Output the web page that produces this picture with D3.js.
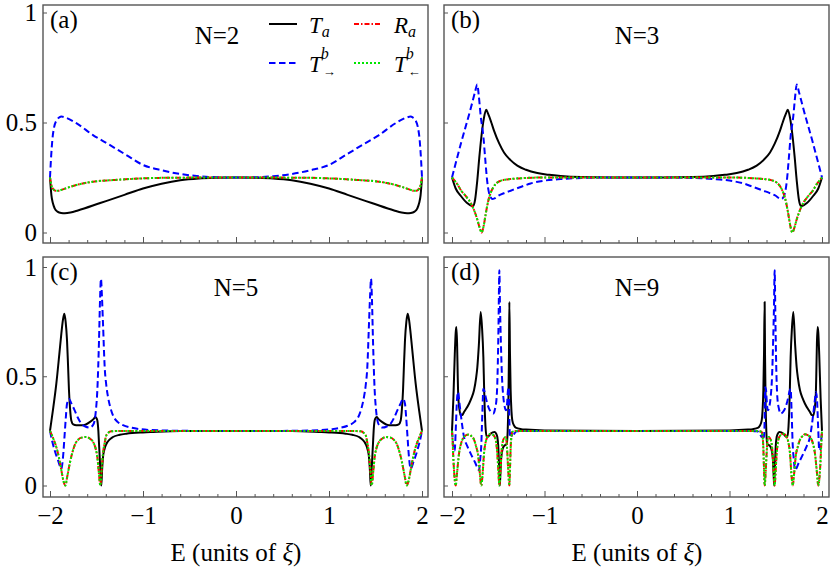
<!DOCTYPE html>
<html>
<head>
<meta charset="utf-8">
<script src="https://cdn.jsdelivr.net/npm/d3@7"></script>
<style>
  body { margin: 0; background: #fff; }
  svg { display: block; font-family: "Liberation Serif", "DejaVu Serif", serif; }
</style>
</head>
<body>
<svg id="chart" width="831" height="571"></svg>
<script>
// tick values
const E_TICKS = [-2, -1, 0, 1, 2];
const E_MINOR = [-1.8, -1.6, -1.4, -1.2, -0.8, -0.6, -0.4, -0.2, 0.2, 0.4, 0.6, 0.8, 1.2, 1.4, 1.6, 1.8];
const Y_TICKS = [0, 0.5, 1];
const Y_LABELS = ["0", "0.5", "1"];
const PANEL_TAGS = ["(a)", "(b)", "(c)", "(d)"];
const PANEL_N = ["N=2", "N=3", "N=5", "N=9"];

// (a) N=2   each point is [E, value]
const a_Ta = [[-2,0.25],[-1.985,0.17],[-1.97,0.135],[-1.95,0.11],[-1.92,0.095],[-1.88,0.089],[-1.84,0.088],[-1.78,0.091],[-1.7,0.1],[-1.46,0.134],[-1.2,0.171],[-1.0,0.2],[-0.8,0.222],[-0.6,0.238],[-0.4,0.246],[-0.2,0.249],[0,0.25],
  [0.2,0.249],[0.4,0.246],[0.6,0.238],[0.8,0.222],[1.0,0.2],[1.2,0.171],[1.46,0.134],[1.7,0.1],[1.78,0.091],[1.84,0.088],[1.88,0.089],[1.92,0.095],[1.95,0.11],[1.97,0.135],[1.985,0.17],[2,0.25]];
const a_Tf = [[-2,0.25],[-1.99,0.33],[-1.975,0.42],[-1.955,0.48],[-1.93,0.51],[-1.9,0.523],[-1.878,0.527],[-1.83,0.522],[-1.717,0.497],[-1.538,0.443],[-1.358,0.398],[-1.179,0.352],[-1.0,0.307],[-0.8,0.283],[-0.6,0.266],[-0.4,0.256],[-0.2,0.251],[0,0.25],
  [0.2,0.251],[0.4,0.256],[0.6,0.266],[0.8,0.283],[1.0,0.307],[1.179,0.352],[1.358,0.398],[1.538,0.443],[1.717,0.497],[1.83,0.522],[1.878,0.527],[1.9,0.523],[1.93,0.51],[1.955,0.48],[1.975,0.42],[1.99,0.33],[2,0.25]];
const a_Ra = [[-2,0.25],[-1.985,0.215],[-1.965,0.197],[-1.94,0.19],[-1.91,0.19],[-1.87,0.195],[-1.8,0.205],[-1.717,0.216],[-1.538,0.231],[-1.3,0.239],[-1.0,0.246],[-0.7,0.249],[0,0.25],
  [0.7,0.249],[1.0,0.246],[1.3,0.239],[1.538,0.231],[1.717,0.216],[1.8,0.205],[1.87,0.195],[1.91,0.19],[1.94,0.19],[1.965,0.197],[1.985,0.215],[2,0.25]];
const a_Tb = a_Ra; // coincides with R_a in the picture

// (b) N=3
const b_Ta = [[-2,0.25],[-1.96,0.2],[-1.906,0.167],[-1.84,0.135],[-1.79,0.122],[-1.77,0.121],[-1.75,0.15],[-1.727,0.235],[-1.705,0.34],[-1.683,0.433],[-1.655,0.52],[-1.63,0.558],[-1.61,0.54],[-1.575,0.5],[-1.546,0.463],[-1.49,0.405],[-1.438,0.364],[-1.37,0.33],[-1.294,0.304],[-1.2,0.285],[-1.078,0.27],[-0.95,0.262],[-0.825,0.257],[-0.6,0.252],[-0.3,0.25],[0,0.25],
  [0.3,0.25],[0.6,0.252],[0.825,0.257],[0.95,0.262],[1.078,0.27],[1.2,0.285],[1.294,0.304],[1.37,0.33],[1.438,0.364],[1.49,0.405],[1.546,0.463],[1.575,0.5],[1.61,0.54],[1.63,0.558],[1.655,0.52],[1.683,0.433],[1.705,0.34],[1.727,0.235],[1.75,0.15],[1.77,0.121],[1.79,0.122],[1.84,0.135],[1.906,0.167],[1.96,0.2],[2,0.25]];
const b_Tf = [[-2,0.25],[-1.9,0.41],[-1.8,0.56],[-1.75,0.64],[-1.727,0.673],[-1.71,0.62],[-1.69,0.53],[-1.66,0.433],[-1.64,0.33],[-1.62,0.235],[-1.6,0.18],[-1.58,0.159],[-1.565,0.152],[-1.54,0.155],[-1.5,0.167],[-1.43,0.18],[-1.366,0.19],[-1.25,0.208],[-1.15,0.223],[-1.0,0.236],[-0.825,0.243],[-0.6,0.248],[-0.3,0.25],[0,0.25],
  [0.3,0.25],[0.6,0.248],[0.825,0.243],[1.0,0.236],[1.15,0.223],[1.25,0.208],[1.366,0.19],[1.43,0.18],[1.5,0.167],[1.54,0.155],[1.565,0.152],[1.58,0.159],[1.6,0.18],[1.62,0.235],[1.64,0.33],[1.66,0.433],[1.69,0.53],[1.71,0.62],[1.727,0.673],[1.75,0.64],[1.8,0.56],[1.9,0.41],[2,0.25]];
const b_Ra = [[-2,0.25],[-1.97,0.235],[-1.943,0.22],[-1.9,0.19],[-1.85,0.165],[-1.8,0.136],[-1.76,0.1],[-1.727,0.06],[-1.7,0.02],[-1.68,0],[-1.66,0.025],[-1.636,0.083],[-1.61,0.14],[-1.58,0.182],[-1.55,0.208],[-1.51,0.227],[-1.45,0.238],[-1.366,0.243],[-1.2,0.248],[-1.0,0.25],[0,0.25],
  [1.0,0.25],[1.2,0.248],[1.366,0.243],[1.45,0.238],[1.51,0.227],[1.55,0.208],[1.58,0.182],[1.61,0.14],[1.636,0.083],[1.66,0.025],[1.68,0],[1.7,0.02],[1.727,0.06],[1.76,0.1],[1.8,0.136],[1.85,0.165],[1.9,0.19],[1.943,0.22],[1.97,0.235],[2,0.25]];
const b_Tb = b_Ra;

// (c) N=5
const c_Ta = [[-2,0.25],[-1.97,0.34],[-1.932,0.466],[-1.9,0.6],[-1.878,0.695],[-1.86,0.76],[-1.846,0.786],[-1.832,0.75],[-1.817,0.664],[-1.806,0.55],[-1.796,0.436],[-1.784,0.35],[-1.771,0.298],[-1.75,0.28],[-1.717,0.276],[-1.645,0.276],[-1.573,0.29],[-1.53,0.305],[-1.513,0.313],[-1.5,0.308],[-1.491,0.298],[-1.48,0.25],[-1.473,0.191],[-1.462,0.1],[-1.452,0.02],[-1.448,0],[-1.44,0.07],[-1.43,0.13],[-1.415,0.165],[-1.394,0.19],[-1.36,0.21],[-1.323,0.222],[-1.25,0.232],[-1.18,0.237],[-1.0,0.243],[-0.892,0.245],[-0.6,0.249],[0,0.25],
  [0.6,0.249],[0.892,0.245],[1.0,0.243],[1.18,0.237],[1.25,0.232],[1.323,0.222],[1.36,0.21],[1.394,0.19],[1.415,0.165],[1.43,0.13],[1.44,0.07],[1.448,0],[1.452,0.02],[1.462,0.1],[1.473,0.191],[1.48,0.25],[1.491,0.298],[1.5,0.308],[1.513,0.313],[1.53,0.305],[1.573,0.29],[1.645,0.276],[1.717,0.276],[1.75,0.28],[1.771,0.298],[1.784,0.35],[1.796,0.436],[1.806,0.55],[1.817,0.664],[1.832,0.75],[1.846,0.786],[1.86,0.76],[1.878,0.695],[1.9,0.6],[1.932,0.466],[1.97,0.34],[2,0.25]];
const c_Tf = [[-2,0.25],[-1.975,0.2],[-1.95,0.161],[-1.91,0.11],[-1.878,0.077],[-1.86,0.13],[-1.842,0.237],[-1.83,0.31],[-1.817,0.374],[-1.796,0.397],[-1.77,0.375],[-1.735,0.344],[-1.7,0.31],[-1.663,0.283],[-1.62,0.27],[-1.573,0.265],[-1.54,0.275],[-1.52,0.298],[-1.505,0.35],[-1.491,0.436],[-1.473,0.664],[-1.462,0.85],[-1.452,0.946],[-1.442,0.87],[-1.43,0.74],[-1.412,0.542],[-1.395,0.46],[-1.376,0.405],[-1.35,0.355],[-1.323,0.321],[-1.27,0.29],[-1.215,0.276],[-1.12,0.264],[-1.035,0.258],[-0.8,0.252],[-0.5,0.25],[0,0.25],
  [0.5,0.25],[0.8,0.252],[1.035,0.258],[1.12,0.264],[1.215,0.276],[1.27,0.29],[1.323,0.321],[1.35,0.355],[1.376,0.405],[1.395,0.46],[1.412,0.542],[1.43,0.74],[1.442,0.87],[1.452,0.946],[1.462,0.85],[1.473,0.664],[1.491,0.436],[1.505,0.35],[1.52,0.298],[1.54,0.275],[1.573,0.265],[1.62,0.27],[1.663,0.283],[1.7,0.31],[1.735,0.344],[1.77,0.375],[1.796,0.397],[1.817,0.374],[1.83,0.31],[1.842,0.237],[1.86,0.13],[1.878,0.077],[1.91,0.11],[1.95,0.161],[1.975,0.2],[2,0.25]];
const c_Ra = [[-2,0.25],[-1.965,0.215],[-1.932,0.176],[-1.9,0.12],[-1.878,0.07],[-1.855,0.02],[-1.835,0],[-1.815,0.04],[-1.788,0.1],[-1.76,0.15],[-1.735,0.184],[-1.7,0.208],[-1.663,0.219],[-1.61,0.222],[-1.57,0.214],[-1.538,0.2],[-1.51,0.17],[-1.491,0.13],[-1.475,0.06],[-1.459,0],[-1.445,0.07],[-1.43,0.146],[-1.41,0.2],[-1.394,0.23],[-1.34,0.248],[-1.2,0.25],[0,0.25],
  [1.2,0.25],[1.34,0.248],[1.394,0.23],[1.41,0.2],[1.43,0.146],[1.445,0.07],[1.459,0],[1.475,0.06],[1.491,0.13],[1.51,0.17],[1.538,0.2],[1.57,0.214],[1.61,0.222],[1.663,0.219],[1.7,0.208],[1.735,0.184],[1.76,0.15],[1.788,0.1],[1.815,0.04],[1.835,0],[1.855,0.02],[1.878,0.07],[1.9,0.12],[1.932,0.176],[1.965,0.215],[2,0.25]];
const c_Tb = c_Ra;

// (d) N=9
const d_Ta = [[-2,0.25],[-1.985,0.4],[-1.97,0.6],[-1.96,0.7],[-1.953,0.725],[-1.945,0.65],[-1.938,0.5],[-1.932,0.405],[-1.92,0.35],[-1.906,0.321],[-1.89,0.322],[-1.87,0.336],[-1.816,0.374],[-1.79,0.4],[-1.762,0.436],[-1.74,0.49],[-1.726,0.542],[-1.71,0.64],[-1.69,0.794],[-1.675,0.72],[-1.661,0.588],[-1.653,0.45],[-1.647,0.36],[-1.638,0.27],[-1.625,0.222],[-1.6,0.228],[-1.582,0.237],[-1.56,0.243],[-1.538,0.245],[-1.52,0.235],[-1.51,0.222],[-1.5,0.18],[-1.492,0.1],[-1.487,0.04],[-1.483,0],[-1.476,0.06],[-1.467,0.13],[-1.445,0.176],[-1.425,0.185],[-1.409,0.189],[-1.398,0.25],[-1.391,0.36],[-1.384,0.6],[-1.38,0.84],[-1.373,0.6],[-1.366,0.436],[-1.357,0.34],[-1.348,0.298],[-1.33,0.275],[-1.311,0.265],[-1.25,0.258],[-1.2,0.256],[-1.0,0.252],[0,0.25],
  [1.0,0.252],[1.2,0.256],[1.25,0.258],[1.311,0.265],[1.33,0.275],[1.348,0.298],[1.357,0.34],[1.366,0.436],[1.373,0.6],[1.38,0.84],[1.384,0.6],[1.391,0.36],[1.398,0.25],[1.409,0.189],[1.425,0.185],[1.445,0.176],[1.467,0.13],[1.476,0.06],[1.483,0],[1.487,0.04],[1.492,0.1],[1.5,0.18],[1.51,0.222],[1.52,0.235],[1.538,0.245],[1.56,0.243],[1.582,0.237],[1.6,0.228],[1.625,0.222],[1.638,0.27],[1.647,0.36],[1.653,0.45],[1.661,0.588],[1.675,0.72],[1.69,0.794],[1.71,0.64],[1.726,0.542],[1.74,0.49],[1.762,0.436],[1.79,0.4],[1.816,0.374],[1.87,0.336],[1.89,0.322],[1.906,0.321],[1.92,0.35],[1.932,0.405],[1.938,0.5],[1.945,0.65],[1.953,0.725],[1.96,0.7],[1.97,0.6],[1.985,0.4],[2,0.25]];
const d_Tf = [[-2,0.25],[-1.99,0.2],[-1.978,0.161],[-1.97,0.16],[-1.96,0.25],[-1.945,0.4],[-1.935,0.428],[-1.92,0.38],[-1.906,0.329],[-1.87,0.222],[-1.835,0.18],[-1.798,0.146],[-1.75,0.105],[-1.708,0.07],[-1.695,0.12],[-1.683,0.19],[-1.672,0.33],[-1.661,0.443],[-1.648,0.43],[-1.636,0.405],[-1.6,0.352],[-1.575,0.335],[-1.553,0.329],[-1.535,0.35],[-1.517,0.405],[-1.505,0.55],[-1.497,0.74],[-1.488,0.985],[-1.481,0.82],[-1.472,0.664],[-1.46,0.5],[-1.445,0.405],[-1.43,0.36],[-1.416,0.344],[-1.405,0.37],[-1.395,0.436],[-1.386,0.45],[-1.38,0.3],[-1.373,0.22],[-1.36,0.24],[-1.348,0.222],[-1.33,0.235],[-1.3,0.248],[-1.2,0.25],[0,0.25],
  [1.2,0.25],[1.3,0.248],[1.33,0.235],[1.348,0.222],[1.36,0.24],[1.373,0.22],[1.38,0.3],[1.386,0.45],[1.395,0.436],[1.405,0.37],[1.416,0.344],[1.43,0.36],[1.445,0.405],[1.46,0.5],[1.472,0.664],[1.481,0.82],[1.488,0.985],[1.497,0.74],[1.505,0.55],[1.517,0.405],[1.535,0.35],[1.553,0.329],[1.575,0.335],[1.6,0.352],[1.636,0.405],[1.648,0.43],[1.661,0.443],[1.672,0.33],[1.683,0.19],[1.695,0.12],[1.708,0.07],[1.75,0.105],[1.798,0.146],[1.835,0.18],[1.87,0.222],[1.906,0.329],[1.92,0.38],[1.935,0.428],[1.945,0.4],[1.96,0.25],[1.97,0.16],[1.978,0.161],[1.99,0.2],[2,0.25]];
const d_Ra = [[-2,0.25],[-1.993,0.2],[-1.986,0.13],[-1.975,0.05],[-1.96,0],[-1.945,0.06],[-1.924,0.146],[-1.9,0.195],[-1.87,0.222],[-1.84,0.232],[-1.816,0.234],[-1.79,0.226],[-1.762,0.21],[-1.74,0.18],[-1.715,0.13],[-1.7,0.06],[-1.683,0],[-1.668,0.06],[-1.654,0.146],[-1.635,0.2],[-1.618,0.222],[-1.582,0.237],[-1.56,0.233],[-1.538,0.222],[-1.52,0.19],[-1.51,0.146],[-1.498,0.06],[-1.488,0],[-1.478,0.06],[-1.466,0.146],[-1.445,0.21],[-1.42,0.222],[-1.41,0.2],[-1.402,0.15],[-1.392,0.07],[-1.38,0],[-1.372,0.09],[-1.366,0.17],[-1.356,0.23],[-1.348,0.245],[-1.3,0.25],[0,0.25],
  [1.3,0.25],[1.348,0.245],[1.356,0.23],[1.366,0.17],[1.372,0.09],[1.38,0],[1.392,0.07],[1.402,0.15],[1.41,0.2],[1.42,0.222],[1.445,0.21],[1.466,0.146],[1.478,0.06],[1.488,0],[1.498,0.06],[1.51,0.146],[1.52,0.19],[1.538,0.222],[1.56,0.233],[1.582,0.237],[1.618,0.222],[1.635,0.2],[1.654,0.146],[1.668,0.06],[1.683,0],[1.7,0.06],[1.715,0.13],[1.74,0.18],[1.762,0.21],[1.79,0.226],[1.816,0.234],[1.84,0.232],[1.87,0.222],[1.9,0.195],[1.924,0.146],[1.945,0.06],[1.96,0],[1.975,0.05],[1.986,0.13],[1.993,0.2],[2,0.25]];
const d_Tb = d_Ra;

const FONT = '"Liberation Serif", "DejaVu Serif", serif';
const FRAME = "#555";

// line styles, drawn in this order
const styles = [
  { key: "ta", color: "#000", dash: null, width: 2 },
  { key: "tf", color: "#0000ff", dash: "6.5,3.5", width: 2 },
  { key: "ra", color: "#ff0000", dash: "5,2,1.5,2", width: 2 },
  { key: "tb", color: "#00e600", dash: "2,2", width: 2 }
];

// layout of the 2x2 grid
const cols = [
  { x0: 43, x1: 428, e0: 50, e1: 422 },
  { x0: 444, x1: 829, e0: 452, e1: 822 }
];
const rows = [
  { y0: 5, y1: 243, v0: 232.5, v1: 12.5 },
  { y0: 257, y1: 497, v0: 485.5, v1: 267 }
];

const panels = [
  { ta: a_Ta, tf: a_Tf, ra: a_Ra, tb: a_Tb, col: 0, row: 0, nx: 217 },
  { ta: b_Ta, tf: b_Tf, ra: b_Ra, tb: b_Tb, col: 1, row: 0 },
  { ta: c_Ta, tf: c_Tf, ra: c_Ra, tb: c_Tb, col: 0, row: 1 },
  { ta: d_Ta, tf: d_Tf, ra: d_Ra, tb: d_Tb, col: 1, row: 1 }
];

const svg = d3.select("#chart");

panels.forEach((p, i) => {
  const c = cols[p.col], r = rows[p.row];
  const x = d3.scaleLinear().domain([-2, 2]).range([c.e0, c.e1]);
  const y = d3.scaleLinear().domain([0, 1]).range([r.v0, r.v1]);
  const g = svg.append("g");

  g.append("clipPath").attr("id", "clip" + i)
    .append("rect")
    .attr("x", c.x0).attr("y", r.y0)
    .attr("width", c.x1 - c.x0).attr("height", r.y1 - r.y0);

  // minor x ticks
  g.append("g")
    .attr("transform", `translate(0,${r.y1})`)
    .call(d3.axisBottom(x).tickValues(E_MINOR).tickSizeInner(-3).tickSizeOuter(0).tickFormat(""))
    .call(s => s.select(".domain").remove())
    .call(s => s.selectAll("line").attr("stroke", FRAME));

  // major x ticks, labels only on the bottom row
  g.append("g")
    .attr("transform", `translate(0,${r.y1})`)
    .call(d3.axisBottom(x).tickValues(E_TICKS).tickSizeInner(-6).tickSizeOuter(0).tickPadding(9)
      .tickFormat(p.row === 1 ? d3.format("d") : ""))
    .call(s => s.select(".domain").remove())
    .call(s => s.selectAll("line").attr("stroke", FRAME))
    .call(s => s.selectAll("text").attr("font-family", FONT).attr("font-size", 25).attr("fill", "#000"));

  // y ticks, labels only on the left column
  g.append("g")
    .attr("transform", `translate(${c.x0},0)`)
    .call(d3.axisLeft(y).tickValues(Y_TICKS).tickSizeInner(-4).tickSizeOuter(0).tickPadding(6)
      .tickFormat((d, k) => p.col === 0 ? Y_LABELS[k] : ""))
    .call(s => s.select(".domain").remove())
    .call(s => s.selectAll("line").attr("stroke", FRAME))
    .call(s => s.selectAll("text").attr("font-family", FONT).attr("font-size", 25).attr("fill", "#000"));

  const line = d3.line()
    .x(d => x(d[0]))
    .y(d => y(d[1]))
    .curve(d3.curveMonotoneX);

  const lines = g.append("g").attr("clip-path", `url(#clip${i})`);
  styles.forEach(st => {
    lines.append("path")
      .datum(p[st.key])
      .attr("d", line)
      .attr("fill", "none")
      .attr("stroke", st.color)
      .attr("stroke-width", st.width)
      .attr("stroke-dasharray", st.dash)
      .attr("stroke-linejoin", "round");
  });

  // frame
  g.append("rect")
    .attr("x", c.x0).attr("y", r.y0)
    .attr("width", c.x1 - c.x0).attr("height", r.y1 - r.y0)
    .attr("fill", "none").attr("stroke", FRAME).attr("stroke-width", 1.4);

  g.append("text")
    .attr("x", c.x0 + 7).attr("y", r.y0 + 23)
    .attr("font-family", FONT).attr("font-size", 25)
    .text(PANEL_TAGS[i]);

  g.append("text")
    .attr("x", p.nx || x(0)).attr("y", r.y0 + 39)
    .attr("text-anchor", "middle")
    .attr("font-family", FONT).attr("font-size", 25)
    .text(PANEL_N[i]);

  if (p.row === 1) {
    const t = g.append("text")
      .attr("x", x(0)).attr("y", 561)
      .attr("text-anchor", "middle")
      .attr("font-family", FONT).attr("font-size", 25);
    t.append("tspan").text("E (units of ");
    t.append("tspan").attr("font-style", "italic").text("ξ");
    t.append("tspan").text(")");
  }
});

// legend in panel (a)
const leg = svg.append("g").attr("font-family", FONT);
const legItems = [
  { st: styles[0], lx: 269, ly: 24, main: "T", sub: "a", sup: null },
  { st: styles[2], lx: 354, ly: 24, main: "R", sub: "a", sup: null },
  { st: styles[1], lx: 269, ly: 63, main: "T", sub: "→", sup: "b" },
  { st: styles[3], lx: 354, ly: 63, main: "T", sub: "←", sup: "b" }
];
legItems.forEach(it => {
  leg.append("line")
    .attr("x1", it.lx).attr("x2", it.lx + 28)
    .attr("y1", it.ly).attr("y2", it.ly)
    .attr("stroke", it.st.color).attr("stroke-width", 2)
    .attr("stroke-dasharray", it.st.dash);
  const t = leg.append("text")
    .attr("x", it.lx + 40).attr("y", it.ly + 9)
    .attr("font-size", 23);
  t.append("tspan").attr("font-style", "italic").text(it.main);
  if (it.sup) {
    t.append("tspan").attr("dx", -1).attr("dy", -13).attr("font-size", 16).attr("font-style", "italic").text(it.sup);
    t.append("tspan").attr("dx", -6).attr("dy", 17).attr("font-size", 13).text(it.sub);
  } else {
    t.append("tspan").attr("dy", 4).attr("font-size", 16).attr("font-style", "italic").text(it.sub);
  }
});
</script>
</body>
</html>
